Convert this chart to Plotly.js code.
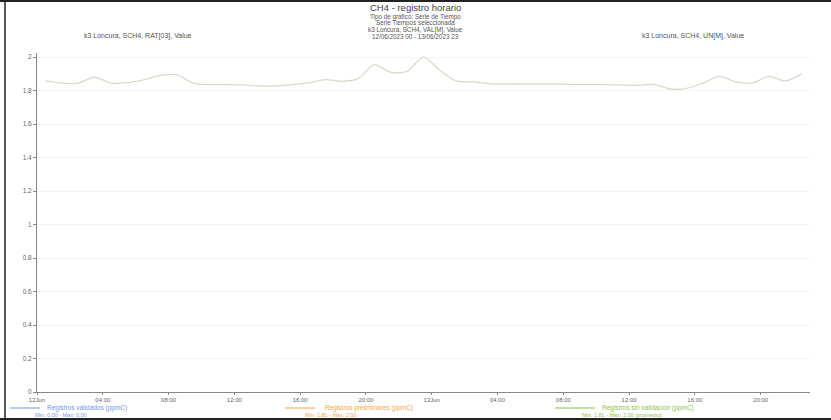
<!DOCTYPE html>
<html>
<head>
<meta charset="utf-8">
<script src="https://cdn.plot.ly/plotly-3.0.1.min.js"></script>
<style>html,body{margin:0;padding:0;background:#fff;}#chart{width:831px;height:420px;}</style>
</head>
<body>
<div id="chart"></div>
<script>
// ---- data ----
const titleLines = ['Tipo de gráfico: Serie de Tiempo', 'Serie Tiempos seleccionada', 'k3 Loncura, SCH4, VAL[M], Value', '12/06/2023 00 - 13/06/2023 23'];
const leftLabel = 'k3 Loncura, SCH4, RAT[03], Value';
const rightLabel = 'k3 Loncura, SCH4, UN[M], Value';
const tickHours = [0, 4, 8, 12, 16, 20, 24, 28, 32, 36, 40, 44];
const tickLabels = ['12Jun', '04:00', '08:00', '12:00', '16:00', '20:00', '13Jun', '04:00', '08:00', '12:00', '16:00', '20:00'];
const ch4Values = [1.858, 1.845, 1.845, 1.880, 1.845, 1.848, 1.865, 1.892, 1.895, 1.845,
                   1.836, 1.836, 1.834, 1.828, 1.828, 1.836, 1.846, 1.866, 1.856, 1.870,
                   1.955, 1.910, 1.915, 2.000, 1.920, 1.858, 1.852, 1.842, 1.840, 1.840,
                   1.840, 1.840, 1.838, 1.838, 1.836, 1.834, 1.832, 1.838, 1.810, 1.814,
                   1.845, 1.885, 1.852, 1.846, 1.885, 1.858, 1.900];
const legendNames = ['Registros validados (ppmC)', 'Registros preliminares (ppmC)', 'Registros sin validación (ppmC)'];
const legendStats = ['Min: 0.00 - Max: 0.00', 'Min: 1.81 - Max: 2.00', 'Min: 1.81 - Max: 2.00 (promedio)'];
const legendColors = ['#6f95e8', '#f4a640', '#8cc152'];

// ---- layout helpers (pixel -> paper) ----
const W = 831, H = 420, L = 37, R = 21, T = 53, B = 28;
const pw = W - L - R, ph = H - T - B;
const px = x => (x - L) / pw;
const py = y => (H - B - y) / ph;

const hours = ch4Values.map((v, i) => i + 0.5);

const trace = {
  x: hours, y: ch4Values, type: 'scatter', mode: 'lines',
  line: {color: '#d8dbc9', width: 1.3, shape: 'spline', smoothing: 0.8},
  hoverinfo: 'none', showlegend: false
};

const annotations = [];
const textFont = {family: 'Liberation Sans, Arial, sans-serif', size: 7, color: '#555'};
annotations.push({xref: 'paper', yref: 'paper', x: px(415), y: py(7), text: 'CH4 - registro horario',
  showarrow: false, xanchor: 'center', yanchor: 'middle', font: {family: textFont.family, size: 9.5, color: '#444'}});
titleLines.forEach((t, i) => annotations.push({xref: 'paper', yref: 'paper', x: px(415), y: py(16.5 + i * 6.5), text: t,
  showarrow: false, xanchor: 'center', yanchor: 'middle', font: {family: textFont.family, size: 6.3, color: '#555'}}));
annotations.push({xref: 'paper', yref: 'paper', x: px(82), y: py(36), text: leftLabel, showarrow: false,
  xanchor: 'left', yanchor: 'middle', font: textFont});
annotations.push({xref: 'paper', yref: 'paper', x: px(640), y: py(36), text: rightLabel, showarrow: false,
  xanchor: 'left', yanchor: 'middle', font: textFont});

const legendX = [[10, 40, 45, 33], [285, 315, 323, 303], [555, 595, 600, 580]];
const shapes = [];
legendNames.forEach((n, i) => {
  const [x0, x1, tx, sx] = legendX[i];
  shapes.push({type: 'line', xref: 'paper', yref: 'paper', x0: px(x0), x1: px(x1), y0: py(408), y1: py(408),
    line: {color: legendColors[i], width: 1}});
  annotations.push({xref: 'paper', yref: 'paper', x: px(tx), y: py(408), text: n, showarrow: false,
    xanchor: 'left', yanchor: 'middle', font: {family: textFont.family, size: 6.5, color: legendColors[i]}});
  annotations.push({xref: 'paper', yref: 'paper', x: px(sx), y: py(414.5), text: legendStats[i], showarrow: false,
    xanchor: 'left', yanchor: 'middle', font: {family: textFont.family, size: 5.5, color: legendColors[i]}});
});
// image frame
shapes.push({type: 'line', xref: 'paper', yref: 'paper', x0: px(0), x1: px(W), y0: py(1), y1: py(1), line: {color: '#222', width: 2}});
shapes.push({type: 'line', xref: 'paper', yref: 'paper', x0: px(5), x1: px(5), y0: py(0), y1: py(H), line: {color: '#222', width: 1.5}});
shapes.push({type: 'line', xref: 'paper', yref: 'paper', x0: px(0), x1: px(W), y0: py(419), y1: py(419), line: {color: '#222', width: 2}});

const layout = {
  width: W, height: H,
  margin: {l: L, r: R, t: T, b: B, pad: 0},
  paper_bgcolor: '#ffffff', plot_bgcolor: '#ffffff',
  showlegend: false,
  font: textFont,
  xaxis: {
    range: [0, 47], tickmode: 'array', tickvals: tickHours, ticktext: tickLabels,
    showline: true, linecolor: '#888', linewidth: 1, showgrid: false, zeroline: false,
    ticks: 'outside', ticklen: 2, tickcolor: '#888',
    tickfont: {family: textFont.family, size: 6, color: '#666'}
  },
  yaxis: {
    range: [0, 2.025], tickmode: 'linear', tick0: 0, dtick: 0.2,
    showline: true, linecolor: '#888', linewidth: 1, showgrid: true, gridcolor: '#f3f3f3', zeroline: false,
    ticks: 'outside', ticklen: 3, tickcolor: '#888',
    tickfont: {family: textFont.family, size: 6.5, color: '#666'}
  },
  annotations: annotations,
  shapes: shapes
};

Plotly.newPlot('chart', [trace], layout, {staticPlot: true, displayModeBar: false});
</script>
</body>
</html>
